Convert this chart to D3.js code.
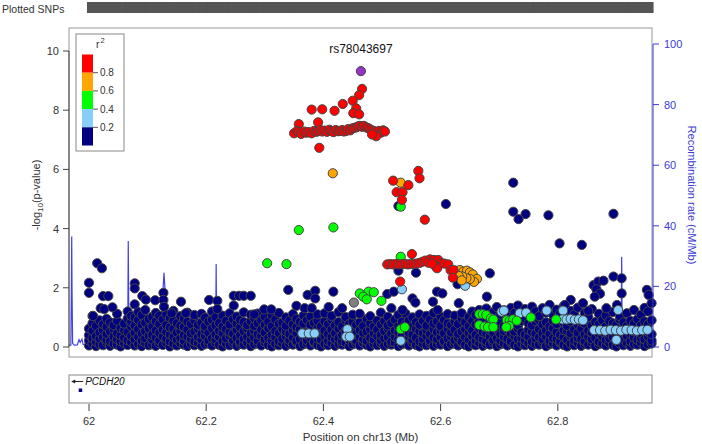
<!DOCTYPE html>
<html><head><meta charset="utf-8">
<script src="https://cdn.jsdelivr.net/npm/d3@7"></script>
<style>body{margin:0;background:#fff}svg{display:block;font-family:"Liberation Sans",Arial,sans-serif}</style>
</head><body><svg id="c" width="702" height="444"></svg>
<script>
// ---------- data ----------
const xTicks = [62, 62.2, 62.4, 62.6, 62.8];
const yTicks = [0, 2, 4, 6, 8, 10];
const recTicks = [0, 20, 40, 60, 80, 100];
const legendColors = ["#FF0000", "#FFA500", "#00FF00", "#87CEFA", "#000080"];
const legendLabels = ["0.8", "0.6", "0.4", "0.2"];
const leadSnp = ["rs78043697", 62.464, 9.32];

// navy (r2 < 0.2): dense band columns [position, [-log10 p ...]]
const navyBand = [
[62.000,[0.05,0.22,0.40,0.62]],[62.006,[0.12,0.30,0.55,0.80,1.05]],[62.012,[0.03,0.18,0.36,0.71]],
[62.018,[0.10,0.28,0.49,0.90]],[62.024,[0.06,0.33,0.58,0.77]],[62.030,[0.15,0.24,0.44,0.68,0.95]],
[62.036,[0.04,0.20,0.52,0.83]],[62.042,[0.11,0.35,0.61,0.74]],[62.048,[0.08,0.27,0.46,0.88,1.12]],
[62.054,[0.02,0.19,0.39,0.64]],[62.060,[0.13,0.31,0.57,0.79]],[62.066,[0.07,0.23,0.50,0.96,1.20]],
[62.072,[0.16,0.37,0.69,0.85,1.05]],[62.078,[0.05,0.26,0.48,0.72,1.00]],[62.084,[0.10,0.34,0.60,0.91,1.18]],
[62.090,[0.03,0.21,0.45,0.76,1.08]],[62.096,[0.14,0.29,0.53,0.82,1.25]],[62.102,[0.06,0.38,0.63,0.95]],
[62.108,[0.09,0.25,0.41,0.70,1.02]],[62.114,[0.04,0.32,0.56,0.87,1.15]],[62.120,[0.12,0.22,0.47,0.78,1.06]],
[62.126,[0.07,0.36,0.59,0.93]],[62.132,[0.15,0.28,0.51,0.74,1.10]],[62.138,[0.02,0.19,0.43,0.66,0.98]],
[62.144,[0.11,0.34,0.62,0.89,1.22]],[62.150,[0.05,0.24,0.49,0.80]],[62.156,[0.13,0.30,0.55,0.72,1.04]],
[62.162,[0.08,0.21,0.40,0.68,0.96]],[62.168,[0.03,0.35,0.58,0.85,1.16]],[62.174,[0.10,0.27,0.46,0.77]],
[62.180,[0.06,0.19,0.52,0.90,1.08]],[62.186,[0.14,0.33,0.61,0.75]],[62.192,[0.04,0.25,0.44,0.82,1.12]],
[62.198,[0.09,0.37,0.57,0.70,0.99]],[62.204,[0.12,0.22,0.48,0.86]],[62.210,[0.05,0.30,0.63,0.92,1.20]],
[62.216,[0.15,0.26,0.42,0.73,1.01]],[62.222,[0.07,0.34,0.55,0.81]],[62.228,[0.02,0.20,0.47,0.69,1.06]],
[62.234,[0.11,0.29,0.60,0.88]],[62.240,[0.06,0.36,0.51,0.76,1.14]],[62.246,[0.13,0.23,0.45,0.94]],
[62.252,[0.04,0.31,0.58,0.79,1.03]],[62.258,[0.10,0.18,0.40,0.67,0.91]],[62.264,[0.08,0.27,0.53,0.84,1.17]],
[62.270,[0.14,0.35,0.62,0.74]],[62.276,[0.03,0.24,0.46,0.87,1.09]],[62.282,[0.09,0.32,0.56,0.71,0.97]],
[62.288,[0.12,0.21,0.43,0.80,1.13]],[62.294,[0.05,0.38,0.59,0.90]],[62.300,[0.16,0.26,0.49,0.75,1.02]],
[62.306,[0.07,0.30,0.64,0.86]],[62.312,[0.02,0.22,0.41,0.70,1.07]],[62.318,[0.11,0.34,0.54,0.93]],
[62.324,[0.06,0.19,0.47,0.78,1.15]],[62.330,[0.13,0.28,0.61,0.83]],[62.336,[0.04,0.36,0.52,0.72,1.00]],
[62.342,[0.10,0.24,0.44,0.89]],[62.348,[0.08,0.31,0.57,0.76,1.11]],[62.354,[0.15,0.20,0.48,0.67,0.95]],
[62.360,[0.03,0.27,0.60,0.85]],[62.366,[0.09,0.35,0.50,0.79,1.06]],[62.372,[0.12,0.23,0.42,0.91]],
[62.378,[0.05,0.32,0.58,0.74,1.03]],[62.384,[0.14,0.18,0.45,0.82]],[62.390,[0.07,0.29,0.63,0.88,1.10]],
[62.396,[0.02,0.25,0.51,0.70]],[62.402,[0.11,0.37,0.56,0.87,1.14]],[62.408,[0.06,0.21,0.43,0.77]],
[62.414,[0.13,0.33,0.59,0.92,1.05]],[62.420,[0.04,0.26,0.47,0.73]],[62.426,[0.10,0.30,0.62,0.84,1.18]],
[62.432,[0.08,0.19,0.40,0.69]],[62.438,[0.15,0.36,0.55,0.90,1.01]],[62.444,[0.03,0.24,0.49,0.78]],
[62.450,[0.09,0.28,0.61,0.86,1.09]],[62.456,[0.12,0.22,0.44,0.75]],[62.462,[0.05,0.34,0.57,0.83,1.12]],
[62.468,[0.14,0.27,0.48,0.71]],[62.474,[0.07,0.20,0.52,0.94]],[62.480,[0.02,0.31,0.60,0.80,1.04]],
[62.486,[0.11,0.25,0.46,0.68]],[62.492,[0.06,0.37,0.58,0.89]],[62.498,[0.13,0.23,0.41,0.76,1.16]],
[62.504,[0.04,0.29,0.54,0.87]],[62.510,[0.10,0.33,0.63,0.73,1.02]],[62.516,[0.08,0.18,0.45,0.81]],
[62.522,[0.15,0.35,0.56,0.92]],[62.528,[0.03,0.26,0.50,0.70,1.08]],[62.534,[0.09,0.30,0.44,0.85]],
[62.540,[0.12,0.21,0.59,0.77,1.13]],[62.546,[0.05,0.36,0.48,0.90]],[62.552,[0.14,0.24,0.42,0.69,1.00]],
[62.558,[0.07,0.32,0.61,0.84]],[62.564,[0.02,0.19,0.53,0.75,1.10]],[62.570,[0.11,0.28,0.47,0.88]],
[62.576,[0.06,0.37,0.57,0.72,1.05]],[62.582,[0.13,0.22,0.43,0.93]],[62.588,[0.04,0.31,0.60,0.79,1.15]],
[62.594,[0.10,0.26,0.50,0.86]],[62.600,[0.08,0.34,0.55,0.71,1.03]],[62.606,[0.15,0.20,0.46,0.91]],
[62.612,[0.03,0.29,0.62,0.80,1.11]],[62.618,[0.09,0.35,0.49,0.74]],[62.624,[0.12,0.23,0.58,0.87,1.06]],
[62.630,[0.05,0.30,0.44,0.78]],[62.636,[0.14,0.18,0.52,0.95,1.14]],[62.642,[0.07,0.33,0.60,0.83]],
[62.648,[0.02,0.25,0.47,0.70,1.01]],[62.654,[0.11,0.37,0.56,0.89,1.20]],[62.660,[0.06,0.21,0.41,0.76,1.08]],
[62.666,[0.13,0.32,0.63,0.85,1.25]],[62.672,[0.04,0.27,0.50,0.93,1.12]],[62.678,[0.10,0.19,0.45,0.72,1.30]],
[62.684,[0.08,0.36,0.57,0.81,1.05]],[62.690,[0.15,0.24,0.48,0.90,1.18]],[62.696,[0.03,0.30,0.61,0.77,1.35]],
[62.702,[0.09,0.22,0.43,0.86,1.10]],[62.708,[0.12,0.34,0.54,0.70,1.24]],[62.714,[0.05,0.28,0.59,0.92,1.08]],
[62.720,[0.14,0.20,0.46,0.79,1.32]],[62.726,[0.07,0.37,0.52,0.84,1.15]],[62.732,[0.02,0.26,0.62,0.74,1.40]],
[62.738,[0.11,0.31,0.49,0.88,1.06]],[62.744,[0.06,0.23,0.42,0.95,1.28]],[62.750,[0.13,0.35,0.58,0.80,1.12]],
[62.756,[0.04,0.18,0.51,0.73,1.36]],[62.762,[0.10,0.29,0.45,0.87,1.20]],[62.768,[0.08,0.33,0.60,0.91,1.04]],
[62.774,[0.15,0.25,0.47,0.76,1.31]],[62.780,[0.03,0.36,0.56,0.83,1.16]],[62.786,[0.09,0.21,0.44,0.70,1.42]],
[62.792,[0.12,0.30,0.63,0.89,1.09]],[62.798,[0.05,0.27,0.50,0.78,1.26]],[62.804,[0.14,0.19,0.41,0.94,1.13]],
[62.810,[0.07,0.34,0.57,0.82,1.38]],[62.816,[0.02,0.24,0.53,0.71,1.05]],[62.822,[0.11,0.37,0.46,0.86,1.22]],
[62.828,[0.06,0.22,0.59,0.93,1.10]],[62.834,[0.13,0.31,0.48,0.75,1.33]],[62.840,[0.04,0.28,0.62,0.85]],
[62.846,[0.10,0.20,0.43,0.79,1.15]],[62.852,[0.08,0.35,0.55,0.90,1.02]],[62.858,[0.15,0.26,0.49,0.72,1.28]],
[62.864,[0.03,0.32,0.61,0.84]],[62.870,[0.09,0.18,0.45,0.77,1.12]],[62.876,[0.12,0.36,0.52,0.91]],
[62.882,[0.05,0.23,0.58,0.70,1.06]],[62.888,[0.14,0.29,0.47,0.87]],[62.894,[0.07,0.34,0.60,0.80,1.18]],
[62.900,[0.02,0.21,0.42,0.74]],[62.906,[0.11,0.30,0.56,0.92,1.04]],[62.912,[0.06,0.27,0.50,0.83]],
[62.918,[0.13,0.37,0.63,0.71,1.14]],[62.924,[0.04,0.19,0.44,0.88]],[62.930,[0.10,0.33,0.53,0.79,1.25]],
[62.936,[0.08,0.24,0.59,0.94]],[62.942,[0.15,0.31,0.46,0.73,1.09]],[62.948,[0.03,0.26,0.61,0.86,1.32]],
[62.954,[0.09,0.35,0.51,0.77,1.20]],[62.960,[0.12,0.22,0.43,0.90,1.48]]
];
// navy scattered above the band [position, -log10 p]
const navyPts = [
[62.000,2.17],[62.000,1.83],[62.014,2.83],[62.022,2.66],[62.024,1.72],[62.033,1.72],[62.020,1.31],[62.026,1.28],
[62.040,1.34],[62.007,1.05],[62.078,2.15],[62.078,1.98],[62.078,1.44],[62.091,1.72],[62.097,1.60],[62.113,1.58],
[62.127,1.83],[62.127,1.59],[62.128,1.36],[62.141,1.14],[62.157,1.53],[62.165,1.14],[62.205,1.59],[62.219,1.56],
[62.219,1.28],[62.247,1.73],[62.256,1.73],[62.264,1.73],[62.276,1.73],[62.247,1.40],[62.282,1.10],[62.299,1.27],
[62.311,1.27],[62.340,1.93],[62.354,1.39],[62.373,1.76],[62.386,1.90],[62.386,1.64],[62.417,1.87],[62.409,1.35],
[62.432,1.31],[62.368,1.31],[62.380,1.31],[62.509,1.79],[62.520,1.87],[62.552,1.64],[62.557,1.50],[62.587,1.53],
[62.594,1.87],[62.603,1.81],[62.516,1.31],[62.535,1.25],[62.631,1.48],[62.595,1.25],[62.528,2.58],[62.558,2.51],
[62.684,2.49],[62.679,1.70],[62.629,2.12],[62.528,4.76],[62.609,4.83],[62.724,5.55],[62.724,4.57],[62.745,4.49],
[62.733,4.32],[62.784,4.45],[62.895,4.50],[62.803,3.50],[62.841,3.45],[62.861,2.09],[62.869,2.21],[62.878,2.24],
[62.895,2.38],[62.909,2.32],[62.866,1.95],[62.872,1.80],[62.952,1.93],[62.955,1.76],[62.909,1.81],[62.901,1.42],
[62.883,1.31],[62.863,1.70],[62.822,1.59],[62.812,1.42],[62.843,1.48],[62.852,1.22]
];
const lightBluePts = [
[62.364,0.46],[62.375,0.46],[62.385,0.46],[62.441,0.60],[62.439,0.35],[62.445,0.35],[62.532,0.21],[62.534,1.95],
[62.642,2.07],[62.704,1.19],[62.708,1.23],[62.735,1.14],[62.746,1.16],[62.781,1.23],[62.809,1.23],[62.808,0.93],
[62.815,0.93],[62.822,0.95],[62.829,0.92],[62.836,0.93],[62.843,0.90],[62.903,1.25],[62.862,0.57],[62.872,0.57],
[62.881,0.55],[62.890,0.58],[62.899,0.57],[62.908,0.55],[62.917,0.58],[62.926,0.57],[62.935,0.55],[62.944,0.57],
[62.953,0.58],[62.900,0.24]
];
const greenPts = [
[62.532,4.74],[62.417,4.04],[62.358,3.95],[62.304,2.83],[62.337,2.80],[62.532,3.05],
[62.462,1.81],[62.477,1.87],[62.486,1.85],[62.468,1.70],[62.474,1.61],[62.499,1.56],[62.532,0.60],[62.539,0.67],
[62.666,1.11],[62.672,1.11],[62.678,1.08],[62.686,0.97],[62.690,0.93],[62.666,0.74],[62.675,0.69],[62.681,0.67],
[62.690,0.67],[62.713,0.91],[62.718,0.89],[62.724,0.93],[62.730,0.89],[62.717,0.71],[62.712,0.67],[62.754,1.00],
[62.797,0.93]
];
const grayPts = [[62.452,1.50]];
const orangePts = [
[62.416,5.87],[62.532,5.55],[62.627,2.57],[62.633,2.60],[62.639,2.55],[62.645,2.58],[62.650,2.52],[62.655,2.45],
[62.662,2.30],[62.657,2.20],[62.650,2.30],[62.644,2.32],[62.637,2.38],[62.631,2.40],[62.636,2.25]
];
const redPts = [
[62.466,8.72],[62.461,8.51],[62.450,8.32],[62.433,8.21],[62.419,7.98],[62.398,8.03],[62.380,8.02],[62.456,8.06],
[62.451,7.90],[62.461,7.86],[62.391,7.59],[62.358,7.53],[62.393,6.73],
[62.350,7.22],[62.355,7.30],[62.358,7.26],[62.362,7.20],[62.367,7.28],[62.371,7.24],[62.375,7.26],[62.380,7.22],
[62.384,7.30],[62.388,7.27],[62.391,7.30],[62.395,7.33],[62.398,7.28],[62.402,7.31],[62.406,7.27],[62.410,7.34],
[62.413,7.30],[62.417,7.26],[62.421,7.33],[62.425,7.29],[62.428,7.30],[62.432,7.33],[62.435,7.28],[62.439,7.30],
[62.442,7.36],[62.446,7.32],[62.449,7.38],[62.452,7.40],[62.456,7.42],[62.459,7.45],[62.462,7.47],[62.466,7.44],
[62.469,7.47],[62.473,7.42],[62.476,7.40],[62.479,7.36],[62.482,7.33],[62.486,7.30],[62.489,7.26],[62.492,7.20],
[62.495,7.30],[62.498,7.24],[62.502,7.32],[62.505,7.28],[62.490,7.12],[62.483,7.18],
[62.562,5.95],[62.564,5.70],[62.519,5.62],[62.545,5.47],[62.525,5.23],[62.535,5.23],[62.534,4.97],[62.573,4.30],
[62.509,2.79],[62.514,2.80],[62.519,2.79],[62.524,2.81],[62.529,2.79],[62.534,2.80],[62.539,2.81],[62.544,2.79],
[62.549,2.80],[62.554,2.81],[62.559,2.82],[62.564,2.84],[62.569,2.88],[62.574,2.92],[62.582,2.96],[62.589,2.94],
[62.596,2.94],[62.601,2.83],[62.592,2.71],[62.594,2.66],[62.606,2.82],[62.613,2.79],[62.617,2.60],[62.622,2.60],
[62.621,2.34],[62.579,2.85],[62.585,2.82],[62.551,3.14],[62.531,2.21]
];
// recombination rate (cM/Mb)
const recPos  = [61.966,61.969,61.9700,61.9705,61.9710,61.972,61.975,61.980,61.983,61.985,61.988,61.990,62.000,62.020,62.040,
                 62.066,62.067,62.068,62.070,62.100,62.124,62.126,62.128,62.130,62.132,62.160,62.216,62.217,62.218,62.300,
                 62.400,62.470,62.560,62.650,62.800,62.908,62.909,62.910,62.961];
const recRate = [0.6,0.6,20,36.5,20,1.2,0.6,0.7,2.4,1.5,2.6,0.8,0.5,0.6,0.5,
                 0.6,35,6,0.8,0.6,1.0,18,24.5,18,1.0,0.5,0.6,27.4,0.6,0.5,
                 0.7,0.8,0.6,0.5,0.6,0.6,29.8,0.6,0.5];
const genes = [["PCDH20", 61.985]];

// ---------- drawing ----------
const svg = d3.select("#c");
const x = d3.scaleLinear().domain([62, 62.8]).range([89, 557.8]);
const y = d3.scaleLinear().domain([0, 10]).range([347, 51]);
const yR = d3.scaleLinear().domain([0, 100]).range([347, 44]);
const box = {l: 69, r: 652, t: 28, b: 357};
const txt = "#333";

const navyAll = [];
navyBand.forEach(([p, vs]) => vs.forEach(v => navyAll.push([p, v])));
navyPts.forEach(d => navyAll.push(d));
const allPos = navyAll.concat(lightBluePts, greenPts, grayPts, orangePts, redPts).map(d => d[0]).concat([leadSnp[1]]);

// plotted SNPs bar
svg.append("text").attr("x", 2).attr("y", 13).attr("font-size", 10.5).attr("fill", txt).text("Plotted SNPs");
svg.append("g").selectAll("line").data(allPos).join("line")
  .attr("x1", d => x(d)).attr("x2", d => x(d)).attr("y1", 2).attr("y2", 13)
  .attr("stroke", "#555").attr("stroke-width", 3.2);

// main box
svg.append("rect").attr("x", box.l).attr("y", box.t).attr("width", box.r - box.l).attr("height", box.b - box.t)
  .attr("fill", "none").attr("stroke", "#999").attr("stroke-width", 1);

// recombination line
const rec = recPos.map((p, i) => [p, recRate[i]]);
svg.append("path").datum(rec)
  .attr("d", d3.line().x(d => x(d[0])).y(d => yR(d[1])))
  .attr("fill", "none").attr("stroke", "#4040f0").attr("stroke-width", 1.2);

// points
const plot = svg.append("g");
function dots(data, color) {
  plot.append("g").selectAll("circle").data(data).join("circle")
    .attr("cx", d => x(d[0])).attr("cy", d => y(d[1])).attr("r", 4.6)
    .attr("fill", color).attr("stroke", "#444").attr("stroke-width", 1);
}
dots(navyAll, legendColors[4]);
dots(lightBluePts, legendColors[3]);
dots(greenPts, legendColors[2]);
dots(grayPts, "#7F7F7F");
dots(orangePts, legendColors[1]);
dots(redPts, legendColors[0]);
dots([[leadSnp[1], leadSnp[2]]], "#9632C8");
svg.append("text").attr("x", x(leadSnp[1])).attr("y", y(leadSnp[2]) - 18).attr("text-anchor", "middle")
  .attr("font-size", 12).attr("fill", "#111").text(leadSnp[0]);

// left axis
const gl = svg.append("g");
gl.append("line").attr("x1", box.l).attr("x2", box.l).attr("y1", y(10)).attr("y2", y(0)).attr("stroke", "#444");
yTicks.forEach(t => {
  gl.append("line").attr("x1", box.l - 6).attr("x2", box.l).attr("y1", y(t)).attr("y2", y(t)).attr("stroke", "#444");
  gl.append("text").attr("x", box.l - 10).attr("y", y(t) + 4).attr("text-anchor", "end").attr("font-size", 11).attr("fill", txt).text(t);
});
const yl = svg.append("text").attr("transform", "translate(40,195) rotate(-90)").attr("text-anchor", "middle")
  .attr("font-size", 11).attr("fill", txt);
yl.append("tspan").text("-log");
yl.append("tspan").attr("font-size", 8).attr("dy", 3).text("10");
yl.append("tspan").attr("dy", -3).text("(p-value)");

// right axis
const blue = "#3b3bd6";
const gr = svg.append("g");
gr.append("line").attr("x1", box.r + 1).attr("x2", box.r + 1).attr("y1", yR(100)).attr("y2", yR(0)).attr("stroke", blue);
recTicks.forEach(t => {
  gr.append("line").attr("x1", box.r + 1).attr("x2", box.r + 7).attr("y1", yR(t)).attr("y2", yR(t)).attr("stroke", blue);
  gr.append("text").attr("x", box.r + 12).attr("y", yR(t) + 4).attr("font-size", 11).attr("fill", blue).text(t);
});
svg.append("text").attr("transform", "translate(688,195) rotate(90)").attr("text-anchor", "middle")
  .attr("font-size", 11).attr("fill", blue).text("Recombination rate (cM/Mb)");

// legend
const lg = svg.append("g");
lg.append("rect").attr("x", 76).attr("y", 34).attr("width", 48).attr("height", 117).attr("fill", "#fff").attr("stroke", "#888");
lg.append("text").attr("x", 96).attr("y", 48).attr("font-size", 10.5).attr("fill", txt).text("r");
lg.append("text").attr("x", 100.5).attr("y", 43).attr("font-size", 7.5).attr("fill", txt).text("2");
const lgY = d3.scaleLinear().domain([1, 0]).range([54.5, 145.5]);
legendColors.forEach((c, i) => {
  lg.append("rect").attr("x", 82).attr("y", lgY(1 - i * 0.2)).attr("width", 11)
    .attr("height", lgY(0.8 - i * 0.2) - lgY(1 - i * 0.2)).attr("fill", c);
});
legendLabels.forEach(l => {
  lg.append("line").attr("x1", 93).attr("x2", 98).attr("y1", lgY(+l)).attr("y2", lgY(+l)).attr("stroke", "#555");
  lg.append("text").attr("x", 100).attr("y", lgY(+l) + 3.5).attr("font-size", 10).attr("fill", txt).text(l);
});

// gene panel
svg.append("rect").attr("x", box.l).attr("y", 375).attr("width", box.r - box.l).attr("height", 28)
  .attr("fill", "none").attr("stroke", "#888");
genes.forEach(([name, pos]) => {
  svg.append("line").attr("x1", x(pos) - 6).attr("x2", x(pos) + 3).attr("y1", 381.5).attr("y2", 381.5).attr("stroke", "#222");
  svg.append("path").attr("d", `M${x(pos) - 9},381.5 L${x(pos) - 5},379.5 L${x(pos) - 5},383.5 Z`).attr("fill", "#222");
  svg.append("text").attr("x", x(pos) + 5).attr("y", 385).attr("font-size", 10).attr("font-style", "italic").attr("fill", "#111").text(name);
  svg.append("rect").attr("x", x(pos) - 1.5).attr("y", 388.5).attr("width", 3.5).attr("height", 3.5).attr("fill", "#000080");
});

// x axis
xTicks.forEach(t => {
  svg.append("line").attr("x1", x(t)).attr("x2", x(t)).attr("y1", 404).attr("y2", 411).attr("stroke", "#444");
  svg.append("text").attr("x", x(t)).attr("y", 425).attr("text-anchor", "middle").attr("font-size", 11).attr("fill", txt).text(t);
});
svg.append("text").attr("x", (box.l + box.r) / 2).attr("y", 441).attr("text-anchor", "middle")
  .attr("font-size", 11.5).attr("fill", txt).text("Position on chr13 (Mb)");
</script></body></html>
